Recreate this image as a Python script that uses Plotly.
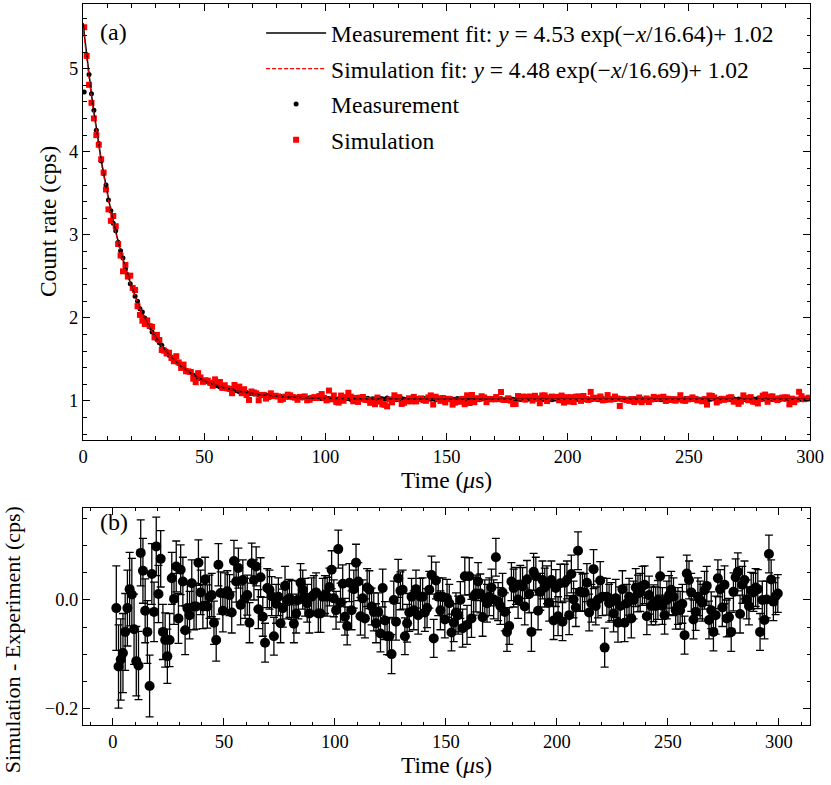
import plotly.graph_objects as go
import numpy as np

# bin centres (us) of the count-rate histogram
time = np.arange(0.5, 300, 1.0)

# measured count rate (cps), one value per bin
meas = [
    4.72, 5.17, 4.93, 4.70, 4.50, 4.26, 4.10, 3.89, 3.74, 3.60,
    3.42, 3.29, 3.14, 3.05, 2.91, 2.81, 2.72, 2.59, 2.52, 2.41,
    2.35, 2.26, 2.20, 2.11, 2.07, 2.00, 1.93, 1.90, 1.83, 1.80,
    1.74, 1.70, 1.67, 1.62, 1.60, 1.55, 1.53, 1.49, 1.47, 1.45,
    1.41, 1.40, 1.37, 1.35, 1.34, 1.31, 1.30, 1.27, 1.27, 1.25,
    1.236, 1.228, 1.211, 1.205, 1.188, 1.184, 1.169, 1.166, 1.152, 1.149,
    1.137, 1.135, 1.124, 1.123, 1.111, 1.110, 1.099, 1.102, 1.091, 1.092,
    1.083, 1.085, 1.075, 1.078, 1.068, 1.071, 1.062, 1.066, 1.058, 1.060,
    1.054, 1.057, 1.049, 1.052, 1.044, 1.049, 1.041, 1.046, 1.039, 1.043,
    1.037, 1.041, 1.033, 1.039, 1.031, 1.036, 1.029, 1.035, 1.027, 1.034, 1.026,
    1.031, 1.024, 1.036, 1.019, 1.028, 1.033, 1.021, 1.027, 1.030, 1.018,
    1.026, 1.034, 1.022, 1.017, 1.029, 1.025, 1.032, 1.020, 1.027, 1.023,
    1.019, 1.030, 1.026, 1.021, 1.035, 1.018, 1.024, 1.028, 1.016, 1.027,
    1.031, 1.022, 1.019, 1.026, 1.014, 1.029, 1.023, 1.018, 1.025, 1.032,
    1.017, 1.024, 1.021, 1.028, 1.015, 1.026, 1.020, 1.030, 1.019, 1.023,
    1.027, 1.016, 1.022, 1.029, 1.018, 1.025, 1.013, 1.024, 1.021, 1.028,
    1.019, 1.026, 1.014, 1.023, 1.030, 1.017, 1.022, 1.027, 1.015, 1.024,
    1.020, 1.029, 1.016, 1.023, 1.018, 1.026, 1.021, 1.012, 1.025, 1.019,
    1.027, 1.015, 1.022, 1.028, 1.017, 1.024, 1.020, 1.031, 1.014, 1.023,
    1.019, 1.026, 1.016, 1.025, 1.021, 1.013, 1.028, 1.018, 1.024, 1.022,
    1.015, 1.027, 1.020, 1.017, 1.029, 1.012, 1.023, 1.026, 1.018, 1.021,
    1.025, 1.016, 1.022, 1.030, 1.019, 1.014, 1.027, 1.021, 1.017, 1.024,
    1.028, 1.018, 1.023, 1.015, 1.026, 1.020, 1.029, 1.016, 1.022, 1.027,
    1.013, 1.024, 1.021, 1.018, 1.026, 1.019, 1.025, 1.016, 1.023, 1.030,
    1.017, 1.022, 1.027, 1.014, 1.021, 1.025, 1.018, 1.029, 1.020, 1.016,
    1.024, 1.019, 1.026, 1.022, 1.015, 1.028, 1.021, 1.017, 1.023, 1.027,
    1.018, 1.025, 1.020, 1.014, 1.026, 1.022, 1.019, 1.028, 1.016, 1.024,
    1.021, 1.027, 1.015, 1.023, 1.018, 1.026, 1.020, 1.029, 1.017, 1.022,
    1.025, 1.016, 1.024, 1.019, 1.027, 1.021, 1.014, 1.026, 1.020, 1.023,
    1.018, 1.028, 1.022, 1.016, 1.025, 1.019, 1.024, 1.021, 1.027,
]

# simulation - experiment, from the second bin on
resid = [
    -0.015, -0.123, -0.110, -0.098, -0.059, -0.015, 0.020, 0.010, -0.054, -0.113,
    -0.121, 0.087, 0.054, -0.020, -0.059, -0.159, 0.048, -0.022, 0.099, 0.011,
    0.076, -0.059, -0.074, -0.104, -0.074, 0.040, 0.002, 0.062, -0.034, 0.056,
    0.034, -0.056, -0.015, -0.028, 0.031, -0.012, -0.012, 0.069, 0.014, -0.012,
    0.038, -0.012, 0.006, 0.009, -0.042, -0.074, 0.065, 0.013, -0.020, 0.012,
    0.016, 0.009, -0.023, 0.072, 0.034, 0.059, -0.009, 0.037, 0.003, 0.009,
    -0.042, 0.068, 0.037, 0.062, -0.017, 0.042, -0.031, -0.079, 0.022, 0.019,
    0.007, -0.067, -0.007, 0.006, -0.043, -0.015, 0.026, 0.000, 0.003, 0.000,
    -0.044, -0.025, 0.000, 0.032, 0.019, 0.005, -0.006, -0.025, 0.006, 0.010,
    0.014, -0.025, -0.025, 0.006, 0.010, 0.006, 0.024, 0.056, 0.003, -0.019,
    0.094, -0.005, 0.030, -0.031, -0.048, 0.032, -0.019, 0.020, 0.069, 0.034,
    -0.030, 0.003, -0.034, 0.023, 0.019, -0.012, -0.022, -0.043, -0.022, -0.062,
    0.022, -0.038, -0.067, -0.067, -0.100, 0.000, -0.040, 0.040, 0.017, 0.019,
    -0.067, -0.043, -0.023, 0.006, -0.019, 0.020, -0.028, 0.006, 0.006, -0.023,
    -0.015, 0.019, 0.046, -0.071, 0.036, 0.006, -0.019, 0.006, -0.036, 0.003,
    -0.006, -0.060, -0.042, -0.023, -0.028, 0.000, -0.052, 0.044, -0.046, 0.044,
    -0.034, 0.007, 0.012, 0.034, 0.012, -0.032, 0.003, -0.006, 0.006, 0.023,
    0.001, 0.079, -0.003, -0.011, 0.014, -0.022, -0.059, -0.048, 0.034, 0.022,
    0.026, 0.001, 0.028, 0.025, -0.012, 0.038, 0.011, -0.059, 0.052, 0.044,
    -0.020, 0.015, 0.037, 0.023, 0.028, -0.005, 0.037, -0.038, 0.022, -0.030,
    0.031, -0.040, 0.032, 0.037, -0.028, 0.048, 0.001, -0.014, 0.091, 0.015,
    0.014, 0.014, 0.032, -0.023, -0.006, 0.057, -0.011, 0.001, 0.036, 0.006,
    -0.088, 0.006, -0.006, -0.003, -0.025, 0.003, -0.042, -0.011, 0.020, -0.042,
    -0.006, 0.006, -0.034, 0.000, 0.023, 0.012, 0.014, 0.026, 0.028, -0.030,
    0.009, -0.011, -0.006, -0.011, 0.000, 0.044, -0.011, -0.028, 0.000, 0.009,
    0.019, 0.006, -0.019, -0.011, -0.019, -0.007, -0.065, 0.049, 0.037, 0.014,
    -0.036, -0.022, 0.006, 0.000, -0.005, 0.018, 0.026, -0.037, -0.019, -0.059,
    -0.028, 0.040, 0.020, -0.014, 0.028, -0.034, -0.032, -0.059, 0.015, 0.042,
    0.052, -0.026, 0.028, 0.037, 0.001, -0.011, 0.017, 0.014, 0.023, 0.020,
    -0.059, 0.000, -0.037, 0.001, 0.085, 0.038, -0.003, 0.007, 0.012,
]

# 1-sigma error of the difference
resid_err = [
    0.078, 0.077, 0.075, 0.073, 0.071, 0.070, 0.068, 0.067, 0.065, 0.064,
    0.063, 0.061, 0.060, 0.059, 0.058, 0.057, 0.056, 0.055, 0.054, 0.053,
    0.052, 0.051, 0.050, 0.050, 0.049, 0.048, 0.047, 0.047, 0.046, 0.046,
    0.045, 0.045, 0.044, 0.044, 0.043, 0.043, 0.042, 0.042, 0.041, 0.041,
    0.041, 0.040, 0.040, 0.040, 0.040, 0.039, 0.039, 0.039, 0.039, 0.038,
    0.038, 0.038, 0.038, 0.038, 0.038, 0.037, 0.037, 0.037, 0.037, 0.037,
    0.037, 0.037, 0.037, 0.036, 0.036, 0.036, 0.036, 0.036, 0.036, 0.036,
    0.036, 0.035, 0.036, 0.035, 0.036, 0.035, 0.036, 0.035, 0.035, 0.036,
    0.035, 0.036, 0.035, 0.035, 0.036, 0.035, 0.035, 0.036, 0.035, 0.035,
    0.036, 0.035, 0.035, 0.034, 0.035, 0.036, 0.035, 0.035, 0.034, 0.035,
    0.035, 0.036, 0.035, 0.034, 0.035, 0.035, 0.036, 0.035, 0.034, 0.035,
    0.035, 0.034, 0.036, 0.035, 0.035, 0.034, 0.035, 0.036, 0.035, 0.034,
    0.035, 0.035, 0.034, 0.035, 0.036, 0.035, 0.034, 0.035, 0.035, 0.036,
    0.034, 0.035, 0.035, 0.034, 0.036, 0.035, 0.035, 0.034, 0.035, 0.035,
    0.036, 0.034, 0.035, 0.035, 0.034, 0.035, 0.036, 0.035, 0.034, 0.035,
    0.035, 0.034, 0.035, 0.036, 0.035, 0.034, 0.035, 0.035, 0.036, 0.034,
    0.035, 0.035, 0.034, 0.035, 0.036, 0.035, 0.034, 0.035, 0.035, 0.034,
    0.036, 0.035, 0.035, 0.034, 0.035, 0.035, 0.036, 0.034, 0.035, 0.035,
    0.034, 0.035, 0.036, 0.035, 0.034, 0.035, 0.035, 0.036, 0.034, 0.035,
    0.035, 0.034, 0.035, 0.036, 0.035, 0.034, 0.035, 0.035, 0.034, 0.036,
    0.035, 0.035, 0.034, 0.035, 0.036, 0.035, 0.034, 0.035, 0.035, 0.036,
    0.034, 0.035, 0.035, 0.034, 0.035, 0.036, 0.035, 0.034, 0.035, 0.035,
    0.036, 0.034, 0.035, 0.035, 0.034, 0.035, 0.036, 0.035, 0.034, 0.035,
    0.035, 0.034, 0.036, 0.035, 0.035, 0.034, 0.035, 0.036, 0.035, 0.034,
    0.035, 0.035, 0.034, 0.035, 0.036, 0.035, 0.034, 0.035, 0.035, 0.036,
    0.034, 0.035, 0.035, 0.034, 0.035, 0.036, 0.035, 0.034, 0.035, 0.035,
    0.036, 0.034, 0.035, 0.035, 0.034, 0.035, 0.036, 0.035, 0.034, 0.035,
    0.035, 0.034, 0.036, 0.035, 0.035, 0.034, 0.035, 0.036, 0.035, 0.034,
    0.035, 0.035, 0.034, 0.035, 0.036, 0.035, 0.034, 0.035, 0.035, 0.036,
    0.034, 0.035, 0.035, 0.034, 0.035, 0.036, 0.035, 0.034, 0.035,
]

# first simulated bin (no residual shown for it)
sim_first = 5.50

# fit parameters from the legend: amplitude, decay time (us), offset
meas_fit = (4.53, 16.64, 1.02)
sim_fit = (4.48, 16.69, 1.02)

n = min(len(resid), len(resid_err), len(meas) - 1)
resid = resid[:n]
resid_err = resid_err[:n]
time_res = time[1:1 + n]
sim = [sim_first] + [m + r for m, r in zip(meas[1:1 + n], resid)]
meas = meas[:1 + n]
time = time[:1 + n]

t_fit = np.linspace(0, 300, 601)
meas_curve = meas_fit[0] * np.exp(-t_fit / meas_fit[1]) + meas_fit[2]
sim_curve = sim_fit[0] * np.exp(-t_fit / sim_fit[1]) + sim_fit[2]

FONT = "Liberation Serif"
BIG = 23.5

fig = go.Figure()
fig.add_trace(go.Scatter(x=time, y=meas, mode="markers", name="Measurement",
                         marker=dict(color="black", size=5), legendrank=3,
                         legendgroup="c", xaxis="x", yaxis="y"))
fig.add_trace(go.Scatter(x=time, y=sim, mode="markers", name="Simulation",
                         marker=dict(color="#ff0000", size=6, symbol="square"),
                         legendrank=4, legendgroup="d", xaxis="x", yaxis="y"))
fig.add_trace(go.Scatter(x=t_fit, y=meas_curve, mode="lines",
                         name="Measurement fit: <i>y</i> = %.2f exp(\u2212<i>x</i>/%.2f)+ %.2f" % meas_fit,
                         line=dict(color="black", width=1.5), legendrank=1,
                         legendgroup="a", xaxis="x", yaxis="y"))
fig.add_trace(go.Scatter(x=t_fit, y=sim_curve, mode="lines",
                         name="Simulation fit: <i>y</i> = %.2f exp(\u2212<i>x</i>/%.2f)+ %.2f" % sim_fit,
                         line=dict(color="#ff0000", width=1.2, dash="4px,2px"), legendrank=2,
                         legendgroup="b", xaxis="x", yaxis="y"))
fig.add_trace(go.Scatter(x=time_res, y=resid, mode="markers", showlegend=False,
                         marker=dict(color="black", size=10),
                         error_y=dict(type="data", array=resid_err, color="black",
                                      thickness=1.3, width=4),
                         xaxis="x2", yaxis="y2"))

axis_style = dict(showline=True, linecolor="black", linewidth=1, mirror="allticks",
                  ticks="inside", ticklen=7, tickwidth=1, tickcolor="black",
                  showgrid=False, zeroline=False,
                  tickfont=dict(family=FONT, size=18.5, color="black"))

fig.update_layout(
    width=831, height=785,
    margin=dict(l=83, r=21, t=4, b=60),
    paper_bgcolor="white", plot_bgcolor="white",
    font=dict(family=FONT, size=18, color="black"),
    xaxis=dict(domain=[0, 1], range=[0, 300], dtick=50, anchor="y",
               minor=dict(ticks="inside", ticklen=3.5, dtick=10, tickcolor="black"),
               title=dict(text="Time (<i>\u03bc</i>s)", standoff=2,
                          font=dict(family=FONT, size=BIG)),
               **axis_style),
    yaxis=dict(domain=[0.3953, 1], range=[0.53, 5.78], dtick=1, anchor="x",
               minor=dict(ticks="inside", ticklen=3.5, dtick=0.2, tickcolor="black"),
               **axis_style),
    xaxis2=dict(domain=[0, 1], range=[-13.5, 314], dtick=50, tick0=0, anchor="y2",
                minor=dict(ticks="inside", ticklen=3.5, dtick=10, tickcolor="black"),
                title=dict(text="Time (<i>\u03bc</i>s)", standoff=2,
                           font=dict(family=FONT, size=BIG)),
                **axis_style),
    yaxis2=dict(domain=[0, 0.301], range=[-0.231, 0.170], dtick=0.2, tick0=0,
                tickformat=".1f", anchor="x2",
                minor=dict(ticks="inside", ticklen=3.5, dtick=0.05, tickcolor="black"),
                **axis_style),
    legend=dict(x=0.245, y=0.99, xanchor="left", yanchor="top",
                bgcolor="rgba(0,0,0,0)", tracegroupgap=2, itemwidth=60,
                font=dict(family=FONT, size=BIG)),
    showlegend=True,
)

fig.add_annotation(text="(a)", xref="x domain", yref="y domain", x=0.02, y=0.935,
                   xanchor="left", yanchor="middle", showarrow=False,
                   font=dict(family=FONT, size=24))
fig.add_annotation(text="(b)", xref="x2 domain", yref="y2 domain", x=0.02, y=0.935,
                   xanchor="left", yanchor="middle", showarrow=False,
                   font=dict(family=FONT, size=24))
fig.add_annotation(text="Count rate (cps)", xref="paper", yref="y domain",
                   x=-0.048, y=0.5, textangle=-90, showarrow=False,
                   xanchor="center", yanchor="middle", font=dict(family=FONT, size=BIG))
fig.add_annotation(text="Simulation - Experiment (cps)", xref="paper", yref="paper",
                   x=-0.096, y=0.118, textangle=-90, showarrow=False,
                   xanchor="center", yanchor="middle", font=dict(family=FONT, size=22))

fig.write_html("out.html", config={"displayModeBar": False},
               post_script="document.body.style.margin='0px';")
